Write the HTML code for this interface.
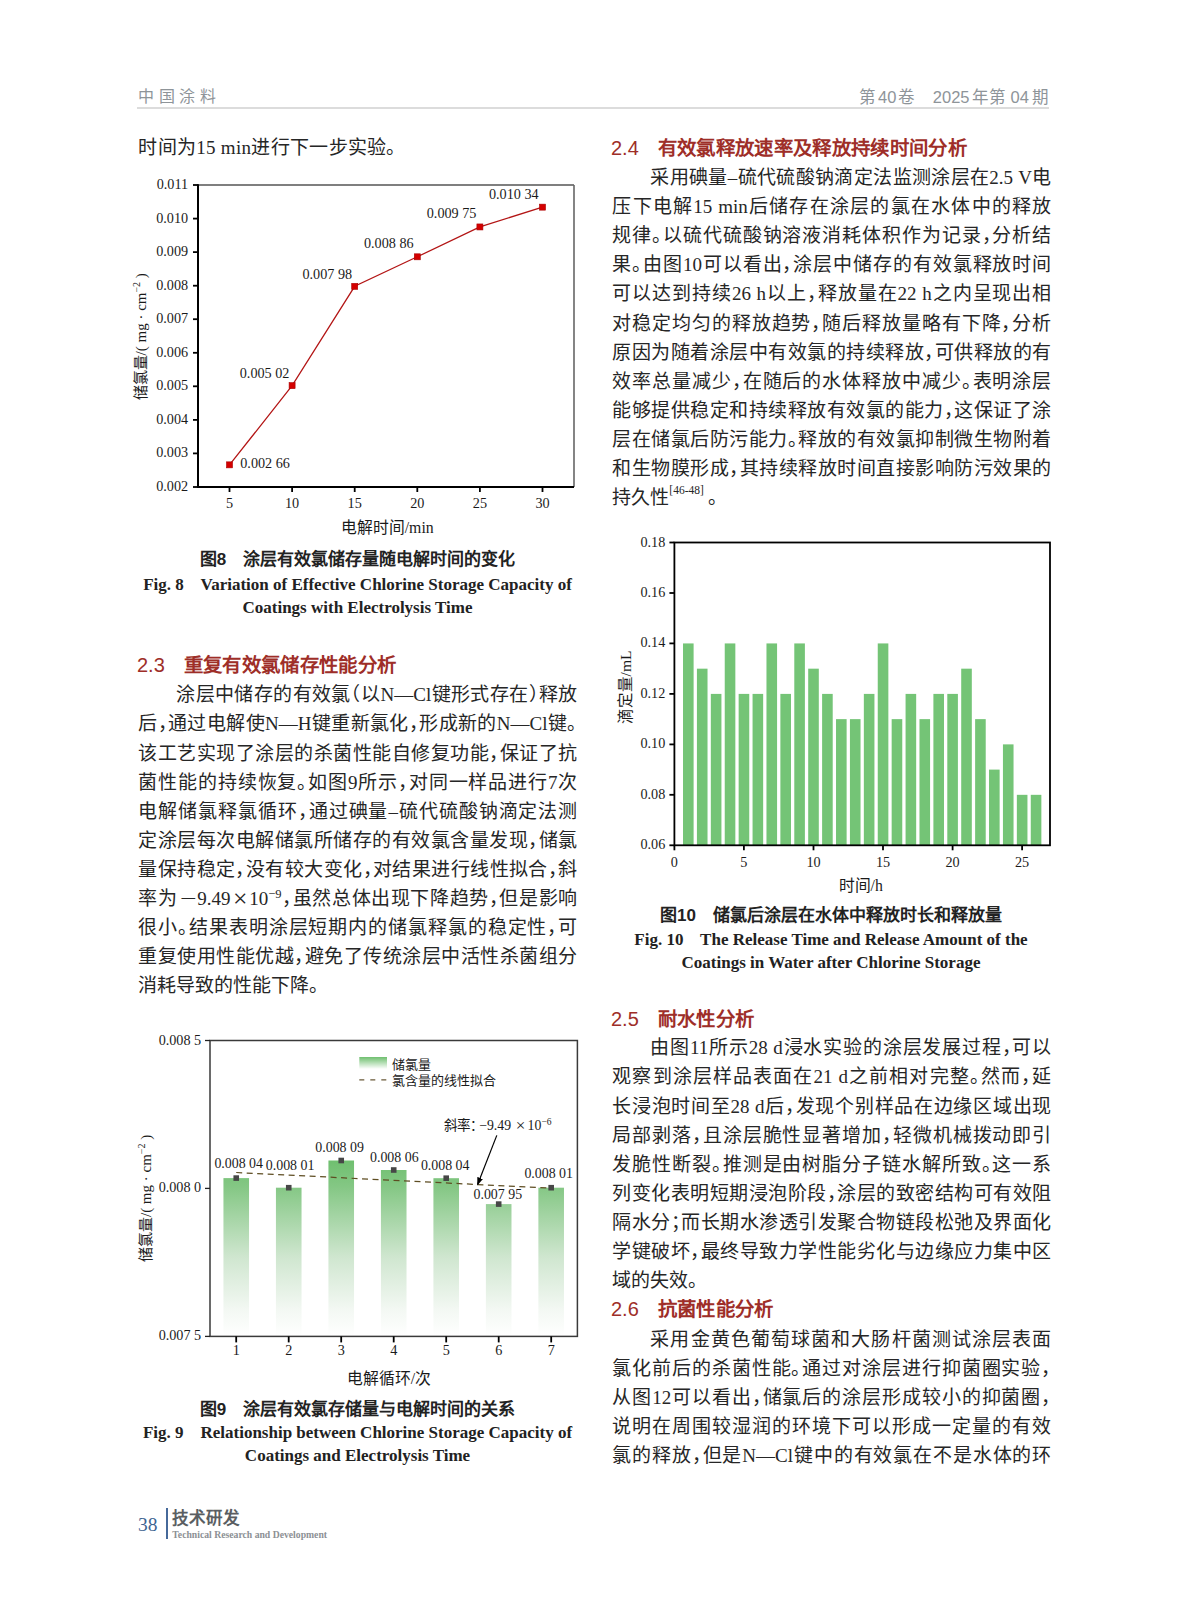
<!DOCTYPE html>
<html lang="zh-CN">
<head>
<meta charset="utf-8">
<title>中国涂料 第40卷 2025年第04期</title>
<style>
html,body{margin:0;padding:0;background:#fff}
body{width:1187px;height:1600px;position:relative;overflow:hidden;font-family:"Liberation Serif",serif;color:#262626}
.ov{position:absolute;left:0;top:0}
.ln{position:absolute;font-family:"Liberation Sans",sans-serif;width:439px;font-size:19px;line-height:29.1px;height:29.1px;white-space:nowrap;text-align:justify;text-align-last:justify;font-feature-settings:"halt"}
.s,.ln sup,.mi,.mx{font-family:"Liberation Serif",serif}
.ln.last{text-align:left;text-align-last:left}
.ln sup{font-size:12.5px;line-height:0;vertical-align:7.5px}
.mi{display:inline-block;transform:scaleX(1.55);margin:0 4px 0 5px}
.mx{display:inline-block;transform:scale(1.35);margin:0 4px}
.ln sup.ref{font-size:11.5px;vertical-align:10px;margin-right:4px}
.hd{position:absolute;width:439px;font-size:19px;line-height:29.1px;white-space:nowrap;color:#9e2e28;font-family:"Liberation Sans",sans-serif}
.hn{display:inline-block;width:46.5px;font-size:20px;margin-left:-1.3px}
.ht{font-weight:bold;font-size:19.4px;letter-spacing:0.35px}
.cc{position:absolute;width:500px;text-align:center;font-family:"Liberation Sans",sans-serif;font-weight:bold;font-size:17px;line-height:24px;color:#222;white-space:pre}
.ce{position:absolute;width:500px;text-align:center;font-family:"Liberation Serif",serif;font-weight:bold;font-size:17px;line-height:23.2px;color:#222;white-space:pre}
.g{display:inline-block;position:relative;width:1em;height:1em;vertical-align:-0.13em;color:transparent;overflow:hidden}
.g::after{content:"";position:absolute;left:.07em;right:.07em;top:.06em;bottom:.08em;background:var(--gc,rgba(20,20,20,.37))}
.gs{display:inline-block;width:1em;height:1em;color:transparent;overflow:hidden;vertical-align:-0.13em}
.gp{display:inline-block;position:relative;width:.5em;height:1em;vertical-align:-0.13em;color:transparent;overflow:hidden}
.gp::after{content:"";position:absolute;left:.1em;width:.18em;bottom:.12em;height:.18em;background:var(--gc,rgba(20,20,20,.32))}
.ln{--gc:rgba(20,20,20,.37)}
.hd{--gc:rgba(158,46,40,.55)}
.cc{--gc:rgba(34,34,34,.62)}
.hdr{--gc:rgba(142,148,153,.45)}
.ft{--gc:rgba(90,94,98,.65)}
.hdr{position:absolute;font-family:"Liberation Sans",sans-serif;color:#8e9499;font-size:16.5px;line-height:20px;white-space:pre}
.rule{position:absolute;left:137px;width:912px;top:107px;height:1.5px;background:#dcdcdc}
</style>
</head>
<body>
<div class="hdr" style="left:138px;top:86.5px;letter-spacing:4.6px;font-size:16px">中国涂料</div>
<div class="hdr" style="left:859.3px;top:86.5px">第</div><div class="hdr" style="left:878px;top:86.5px">40</div><div class="hdr" style="left:898.3px;top:86.5px">卷</div>
<div class="hdr" style="left:932.8px;top:86.5px">2025</div><div class="hdr" style="left:972.3px;top:86.5px">年</div><div class="hdr" style="left:989px;top:86.5px">第</div><div class="hdr" style="left:1010.5px;top:86.5px">04</div><div class="hdr" style="left:1032.3px;top:86.5px">期</div>
<div class="rule"></div>

<div class="ln last" style="left:138.3px;top:133.00px;letter-spacing:0.3px">时间为<span class="s">15 min</span>进行下一步实验。</div>
<div class="hd" style="left:138.3px;top:651.00px"><span class="hn">2.3</span><span class="ht">重复有效氯储存性能分析</span></div>
<div class="ln" style="left:138.3px;top:680.30px;padding-left:38px;width:401px">涂层中储存的有效氯（以<span class="s">N—Cl</span>键形式存在）释放</div>
<div class="ln" style="left:138.3px;top:709.40px">后，通过电解使<span class="s">N—H</span>键重新氯化，形成新的<span class="s">N—Cl</span>键。</div>
<div class="ln" style="left:138.3px;top:738.50px">该工艺实现了涂层的杀菌性能自修复功能，保证了抗</div>
<div class="ln" style="left:138.3px;top:767.60px">菌性能的持续恢复。如图<span class="s">9</span>所示，对同一样品进行<span class="s">7</span>次</div>
<div class="ln" style="left:138.3px;top:796.70px">电解储氯释氯循环，通过碘量<span class="s">–</span>硫代硫酸钠滴定法测</div>
<div class="ln" style="left:138.3px;top:825.80px">定涂层每次电解储氯所储存的有效氯含量发现，储氯</div>
<div class="ln" style="left:138.3px;top:854.90px">量保持稳定，没有较大变化，对结果进行线性拟合，斜</div>
<div class="ln" style="left:138.3px;top:884.00px">率为<span class="mi">−</span><span class="s">9.49</span><span class="mx">×</span><span class="s">10</span><sup>−9</sup>，虽然总体出现下降趋势，但是影响</div>
<div class="ln" style="left:138.3px;top:913.10px">很小。结果表明涂层短期内的储氯释氯的稳定性，可</div>
<div class="ln" style="left:138.3px;top:942.20px">重复使用性能优越，避免了传统涂层中活性杀菌组分</div>
<div class="ln last" style="left:138.3px;top:971.30px">消耗导致的性能下降。</div>

<div class="hd" style="left:612.3px;top:134.10px"><span class="hn">2.4</span><span class="ht">有效氯释放速率及释放持续时间分析</span></div>
<div class="ln" style="left:612.3px;top:163.00px;padding-left:38px;width:401px">采用碘量<span class="s">–</span>硫代硫酸钠滴定法监测涂层在<span class="s">2.5 V</span>电</div>
<div class="ln" style="left:612.3px;top:192.10px">压下电解<span class="s">15 min</span>后储存在涂层的氯在水体中的释放</div>
<div class="ln" style="left:612.3px;top:221.20px">规律。以硫代硫酸钠溶液消耗体积作为记录，分析结</div>
<div class="ln" style="left:612.3px;top:250.30px">果。由图<span class="s">10</span>可以看出，涂层中储存的有效氯释放时间</div>
<div class="ln" style="left:612.3px;top:279.40px">可以达到持续<span class="s">26 h</span>以上，释放量在<span class="s">22 h</span>之内呈现出相</div>
<div class="ln" style="left:612.3px;top:308.50px">对稳定均匀的释放趋势，随后释放量略有下降，分析</div>
<div class="ln" style="left:612.3px;top:337.60px">原因为随着涂层中有效氯的持续释放，可供释放的有</div>
<div class="ln" style="left:612.3px;top:366.70px">效率总量减少，在随后的水体释放中减少。表明涂层</div>
<div class="ln" style="left:612.3px;top:395.80px">能够提供稳定和持续释放有效氯的能力，这保证了涂</div>
<div class="ln" style="left:612.3px;top:424.90px">层在储氯后防污能力。释放的有效氯抑制微生物附着</div>
<div class="ln" style="left:612.3px;top:454.00px">和生物膜形成，其持续释放时间直接影响防污效果的</div>
<div class="ln last" style="left:612.3px;top:483.10px">持久性<sup class="ref">[46-48]</sup>。</div>
<div class="hd" style="left:612.3px;top:1004.70px"><span class="hn">2.5</span><span class="ht">耐水性分析</span></div>
<div class="ln" style="left:612.3px;top:1033.30px;padding-left:38px;width:401px">由图<span class="s">11</span>所示<span class="s">28 d</span>浸水实验的涂层发展过程，可以</div>
<div class="ln" style="left:612.3px;top:1062.40px">观察到涂层样品表面在<span class="s">21 d</span>之前相对完整。然而，延</div>
<div class="ln" style="left:612.3px;top:1091.50px">长浸泡时间至<span class="s">28 d</span>后，发现个别样品在边缘区域出现</div>
<div class="ln" style="left:612.3px;top:1120.60px">局部剥落，且涂层脆性显著增加，轻微机械拨动即引</div>
<div class="ln" style="left:612.3px;top:1149.70px">发脆性断裂。推测是由树脂分子链水解所致。这一系</div>
<div class="ln" style="left:612.3px;top:1178.80px">列变化表明短期浸泡阶段，涂层的致密结构可有效阻</div>
<div class="ln" style="left:612.3px;top:1207.90px">隔水分；而长期水渗透引发聚合物链段松弛及界面化</div>
<div class="ln" style="left:612.3px;top:1237.00px">学键破坏，最终导致力学性能劣化与边缘应力集中区</div>
<div class="ln last" style="left:612.3px;top:1266.10px">域的失效。</div>
<div class="hd" style="left:612.3px;top:1295.10px"><span class="hn">2.6</span><span class="ht">抗菌性能分析</span></div>
<div class="ln" style="left:612.3px;top:1324.50px;padding-left:38px;width:401px">采用金黄色葡萄球菌和大肠杆菌测试涂层表面</div>
<div class="ln" style="left:612.3px;top:1353.60px">氯化前后的杀菌性能。通过对涂层进行抑菌圈实验，</div>
<div class="ln" style="left:612.3px;top:1382.70px">从图<span class="s">12</span>可以看出，储氯后的涂层形成较小的抑菌圈，</div>
<div class="ln" style="left:612.3px;top:1411.80px">说明在周围较湿润的环境下可以形成一定量的有效</div>
<div class="ln" style="left:612.3px;top:1440.90px">氯的释放，但是<span class="s">N—Cl</span>键中的有效氯在不是水体的环</div>

<div class="cc" style="left:107.5px;top:547.6px">图8　涂层有效氯储存量随电解时间的变化</div>
<div class="ce" style="left:107.5px;top:572.7px">Fig. 8    Variation of Effective Chlorine Storage Capacity of</div>
<div class="ce" style="left:107.5px;top:595.9px">Coatings with Electrolysis Time</div>
<div class="cc" style="left:581.0px;top:903.9px">图10　储氯后涂层在水体中释放时长和释放量</div>
<div class="ce" style="left:581.0px;top:927.6px">Fig. 10    The Release Time and Release Amount of the</div>
<div class="ce" style="left:581.0px;top:950.8px">Coatings in Water after Chlorine Storage</div>
<div class="cc" style="left:107.5px;top:1397.9px">图9　涂层有效氯存储量与电解时间的关系</div>
<div class="ce" style="left:107.5px;top:1420.8px">Fig. 9    Relationship between Chlorine Storage Capacity of</div>
<div class="ce" style="left:107.5px;top:1444.0px">Coatings and Electrolysis Time</div>

<svg class="ov" width="1187" height="1600" viewBox="0 0 1187 1600" font-family="Liberation Serif, serif" fill="#1a1a1a"><defs><linearGradient id="g9" gradientUnits="userSpaceOnUse" x1="0" y1="1160" x2="0" y2="1336"><stop offset="0" stop-color="#6fbf6f"/><stop offset="0.15" stop-color="#84c784"/><stop offset="0.55" stop-color="#cfe6cf"/><stop offset="0.85" stop-color="#f3f8f3"/><stop offset="1" stop-color="#ffffff"/></linearGradient><linearGradient id="g9l" x1="0" y1="0" x2="0" y2="1"><stop offset="0" stop-color="#6fbf6f"/><stop offset="1" stop-color="#ffffff"/></linearGradient><marker id="ah" markerWidth="8" markerHeight="8" refX="7" refY="4" orient="auto" markerUnits="userSpaceOnUse"><path d="M0,1 L8,4 L0,7 Z" fill="#000"/></marker></defs>
<line x1="198.0" y1="185.0" x2="574.0" y2="185.0" stroke="#555" stroke-width="1.6" />
<line x1="574.0" y1="185.0" x2="574.0" y2="487.0" stroke="#666" stroke-width="1.6" />
<line x1="198.0" y1="184.2" x2="198.0" y2="488.0" stroke="#000" stroke-width="2" />
<line x1="197.0" y1="487.0" x2="574.0" y2="487.0" stroke="#000" stroke-width="2" />
<line x1="193.0" y1="487.0" x2="198.0" y2="487.0" stroke="#000" stroke-width="1.8" />
<text x="188.1" y="491.0" font-size="14.2" text-anchor="end" >0.002</text>
<line x1="193.0" y1="453.4" x2="198.0" y2="453.4" stroke="#000" stroke-width="1.8" />
<text x="188.1" y="457.4" font-size="14.2" text-anchor="end" >0.003</text>
<line x1="193.0" y1="419.9" x2="198.0" y2="419.9" stroke="#000" stroke-width="1.8" />
<text x="188.1" y="423.9" font-size="14.2" text-anchor="end" >0.004</text>
<line x1="193.0" y1="386.3" x2="198.0" y2="386.3" stroke="#000" stroke-width="1.8" />
<text x="188.1" y="390.3" font-size="14.2" text-anchor="end" >0.005</text>
<line x1="193.0" y1="352.8" x2="198.0" y2="352.8" stroke="#000" stroke-width="1.8" />
<text x="188.1" y="356.8" font-size="14.2" text-anchor="end" >0.006</text>
<line x1="193.0" y1="319.2" x2="198.0" y2="319.2" stroke="#000" stroke-width="1.8" />
<text x="188.1" y="323.2" font-size="14.2" text-anchor="end" >0.007</text>
<line x1="193.0" y1="285.7" x2="198.0" y2="285.7" stroke="#000" stroke-width="1.8" />
<text x="188.1" y="289.7" font-size="14.2" text-anchor="end" >0.008</text>
<line x1="193.0" y1="252.1" x2="198.0" y2="252.1" stroke="#000" stroke-width="1.8" />
<text x="188.1" y="256.1" font-size="14.2" text-anchor="end" >0.009</text>
<line x1="193.0" y1="218.6" x2="198.0" y2="218.6" stroke="#000" stroke-width="1.8" />
<text x="188.1" y="222.6" font-size="14.2" text-anchor="end" >0.010</text>
<line x1="193.0" y1="185.0" x2="198.0" y2="185.0" stroke="#000" stroke-width="1.8" />
<text x="188.1" y="189.0" font-size="14.2" text-anchor="end" >0.011</text>
<line x1="229.5" y1="487.0" x2="229.5" y2="492.0" stroke="#000" stroke-width="1.8" />
<text x="229.5" y="507.6" font-size="14.2" text-anchor="middle" >5</text>
<line x1="292.1" y1="487.0" x2="292.1" y2="492.0" stroke="#000" stroke-width="1.8" />
<text x="292.1" y="507.6" font-size="14.2" text-anchor="middle" >10</text>
<line x1="354.7" y1="487.0" x2="354.7" y2="492.0" stroke="#000" stroke-width="1.8" />
<text x="354.7" y="507.6" font-size="14.2" text-anchor="middle" >15</text>
<line x1="417.3" y1="487.0" x2="417.3" y2="492.0" stroke="#000" stroke-width="1.8" />
<text x="417.3" y="507.6" font-size="14.2" text-anchor="middle" >20</text>
<line x1="479.9" y1="487.0" x2="479.9" y2="492.0" stroke="#000" stroke-width="1.8" />
<text x="479.9" y="507.6" font-size="14.2" text-anchor="middle" >25</text>
<line x1="542.5" y1="487.0" x2="542.5" y2="492.0" stroke="#000" stroke-width="1.8" />
<text x="542.5" y="507.6" font-size="14.2" text-anchor="middle" >30</text>
<polyline fill="none" stroke="#b31515" stroke-width="1.25" points="229.5,464.9 292.1,385.7 354.7,286.3 417.3,256.8 479.9,226.9 542.5,207.1"/>
<rect x="226.50" y="461.85" width="6.00" height="6.00" fill="#d40000" stroke="#a00" stroke-width="0.6"/>
<rect x="289.10" y="382.66" width="6.00" height="6.00" fill="#d40000" stroke="#a00" stroke-width="0.6"/>
<rect x="351.70" y="283.34" width="6.00" height="6.00" fill="#d40000" stroke="#a00" stroke-width="0.6"/>
<rect x="414.30" y="253.81" width="6.00" height="6.00" fill="#d40000" stroke="#a00" stroke-width="0.6"/>
<rect x="476.90" y="223.94" width="6.00" height="6.00" fill="#d40000" stroke="#a00" stroke-width="0.6"/>
<rect x="539.50" y="204.15" width="6.00" height="6.00" fill="#d40000" stroke="#a00" stroke-width="0.6"/>
<text x="265.1" y="468.0" font-size="14.2" text-anchor="middle" >0.002 66</text>
<text x="264.6" y="378.2" font-size="14.2" text-anchor="middle" >0.005 02</text>
<text x="327.3" y="279.2" font-size="14.2" text-anchor="middle" >0.007 98</text>
<text x="388.8" y="247.6" font-size="14.2" text-anchor="middle" >0.008 86</text>
<text x="451.6" y="217.7" font-size="14.2" text-anchor="middle" >0.009 75</text>
<text x="513.8" y="199.3" font-size="14.2" text-anchor="middle" >0.010 34</text>
<text x="0.0" y="0.0" font-size="15" text-anchor="middle" transform="translate(146,336.8) rotate(-90)"><tspan font-family="Liberation Sans, sans-serif">储氯量</tspan>/( mg · cm<tspan dy="-6" font-size="10">−2</tspan><tspan dy="6"> )</tspan></text>
<text x="387.2" y="532.5" font-size="15.8" text-anchor="middle" ><tspan font-family="Liberation Sans, sans-serif">电解时间</tspan>/min</text>
<rect x="683.01" y="643.43" width="10.60" height="201.87" fill="#74c476" />
<rect x="696.92" y="668.67" width="10.60" height="176.63" fill="#74c476" />
<rect x="710.83" y="693.90" width="10.60" height="151.40" fill="#74c476" />
<rect x="724.74" y="643.43" width="10.60" height="201.87" fill="#74c476" />
<rect x="738.65" y="693.90" width="10.60" height="151.40" fill="#74c476" />
<rect x="752.56" y="693.90" width="10.60" height="151.40" fill="#74c476" />
<rect x="766.47" y="643.43" width="10.60" height="201.87" fill="#74c476" />
<rect x="780.38" y="693.90" width="10.60" height="151.40" fill="#74c476" />
<rect x="794.29" y="643.43" width="10.60" height="201.87" fill="#74c476" />
<rect x="808.20" y="668.67" width="10.60" height="176.63" fill="#74c476" />
<rect x="822.11" y="693.90" width="10.60" height="151.40" fill="#74c476" />
<rect x="836.02" y="719.13" width="10.60" height="126.17" fill="#74c476" />
<rect x="849.93" y="719.13" width="10.60" height="126.17" fill="#74c476" />
<rect x="863.84" y="693.90" width="10.60" height="151.40" fill="#74c476" />
<rect x="877.75" y="643.43" width="10.60" height="201.87" fill="#74c476" />
<rect x="891.66" y="719.13" width="10.60" height="126.17" fill="#74c476" />
<rect x="905.57" y="693.90" width="10.60" height="151.40" fill="#74c476" />
<rect x="919.48" y="719.13" width="10.60" height="126.17" fill="#74c476" />
<rect x="933.39" y="693.90" width="10.60" height="151.40" fill="#74c476" />
<rect x="947.30" y="693.90" width="10.60" height="151.40" fill="#74c476" />
<rect x="961.21" y="668.67" width="10.60" height="176.63" fill="#74c476" />
<rect x="975.12" y="719.13" width="10.60" height="126.17" fill="#74c476" />
<rect x="989.03" y="769.60" width="10.60" height="75.70" fill="#74c476" />
<rect x="1002.94" y="744.37" width="10.60" height="100.93" fill="#74c476" />
<rect x="1016.85" y="794.83" width="10.60" height="50.47" fill="#74c476" />
<rect x="1030.76" y="794.83" width="10.60" height="50.47" fill="#74c476" />
<rect x="674.4" y="542.5" width="375.6" height="302.8" fill="none" stroke="#000" stroke-width="1.8"/>
<line x1="669.4" y1="845.3" x2="674.4" y2="845.3" stroke="#000" stroke-width="1.8" />
<text x="665.3" y="849.3" font-size="14.2" text-anchor="end" >0.06</text>
<line x1="669.4" y1="794.8" x2="674.4" y2="794.8" stroke="#000" stroke-width="1.8" />
<text x="665.3" y="798.8" font-size="14.2" text-anchor="end" >0.08</text>
<line x1="669.4" y1="744.4" x2="674.4" y2="744.4" stroke="#000" stroke-width="1.8" />
<text x="665.3" y="748.4" font-size="14.2" text-anchor="end" >0.10</text>
<line x1="669.4" y1="693.9" x2="674.4" y2="693.9" stroke="#000" stroke-width="1.8" />
<text x="665.3" y="697.9" font-size="14.2" text-anchor="end" >0.12</text>
<line x1="669.4" y1="643.4" x2="674.4" y2="643.4" stroke="#000" stroke-width="1.8" />
<text x="665.3" y="647.4" font-size="14.2" text-anchor="end" >0.14</text>
<line x1="669.4" y1="593.0" x2="674.4" y2="593.0" stroke="#000" stroke-width="1.8" />
<text x="665.3" y="597.0" font-size="14.2" text-anchor="end" >0.16</text>
<line x1="669.4" y1="542.5" x2="674.4" y2="542.5" stroke="#000" stroke-width="1.8" />
<text x="665.3" y="546.5" font-size="14.2" text-anchor="end" >0.18</text>
<line x1="674.4" y1="845.3" x2="674.4" y2="850.3" stroke="#000" stroke-width="1.8" />
<text x="674.4" y="866.7" font-size="14.2" text-anchor="middle" >0</text>
<line x1="743.9" y1="845.3" x2="743.9" y2="850.3" stroke="#000" stroke-width="1.8" />
<text x="743.9" y="866.7" font-size="14.2" text-anchor="middle" >5</text>
<line x1="813.5" y1="845.3" x2="813.5" y2="850.3" stroke="#000" stroke-width="1.8" />
<text x="813.5" y="866.7" font-size="14.2" text-anchor="middle" >10</text>
<line x1="883.0" y1="845.3" x2="883.0" y2="850.3" stroke="#000" stroke-width="1.8" />
<text x="883.0" y="866.7" font-size="14.2" text-anchor="middle" >15</text>
<line x1="952.6" y1="845.3" x2="952.6" y2="850.3" stroke="#000" stroke-width="1.8" />
<text x="952.6" y="866.7" font-size="14.2" text-anchor="middle" >20</text>
<line x1="1022.1" y1="845.3" x2="1022.1" y2="850.3" stroke="#000" stroke-width="1.8" />
<text x="1022.1" y="866.7" font-size="14.2" text-anchor="middle" >25</text>
<text x="0.0" y="0.0" font-size="15.5" text-anchor="middle" transform="translate(631,687.5) rotate(-90)"><tspan font-family="Liberation Sans, sans-serif">滴定量</tspan>/mL</text>
<text x="860.7" y="890.5" font-size="15.8" text-anchor="middle" ><tspan font-family="Liberation Sans, sans-serif">时间</tspan>/h</text>
<rect x="223.44" y="1178.10" width="25.60" height="158.30" fill="url(#g9)" />
<rect x="275.94" y="1187.70" width="25.60" height="148.70" fill="url(#g9)" />
<rect x="328.43" y="1160.50" width="25.60" height="175.90" fill="url(#g9)" />
<rect x="380.92" y="1170.00" width="25.60" height="166.40" fill="url(#g9)" />
<rect x="433.41" y="1178.20" width="25.60" height="158.20" fill="url(#g9)" />
<rect x="485.89" y="1204.10" width="25.60" height="132.30" fill="url(#g9)" />
<rect x="538.38" y="1187.70" width="25.60" height="148.70" fill="url(#g9)" />
<line x1="236.2" y1="1172.5" x2="551.2" y2="1188.2" stroke="#5e4d22" stroke-width="1.25" stroke-dasharray="6,4.5"/>
<rect x="233.44" y="1175.30" width="5.60" height="5.60" fill="#474747" />
<rect x="285.94" y="1184.90" width="5.60" height="5.60" fill="#474747" />
<rect x="338.43" y="1157.70" width="5.60" height="5.60" fill="#474747" />
<rect x="390.92" y="1167.20" width="5.60" height="5.60" fill="#474747" />
<rect x="443.41" y="1175.40" width="5.60" height="5.60" fill="#474747" />
<rect x="495.89" y="1201.30" width="5.60" height="5.60" fill="#474747" />
<rect x="548.38" y="1184.90" width="5.60" height="5.60" fill="#474747" />
<rect x="210.0" y="1040.5" width="367.4" height="295.9" fill="none" stroke="#3a3a3a" stroke-width="1.5"/>
<line x1="205.0" y1="1040.5" x2="210.0" y2="1040.5" stroke="#222" stroke-width="1.3" />
<text x="201.2" y="1044.5" font-size="14.2" text-anchor="end" >0.008 5</text>
<line x1="205.0" y1="1188.4" x2="210.0" y2="1188.4" stroke="#222" stroke-width="1.3" />
<text x="201.2" y="1192.4" font-size="14.2" text-anchor="end" >0.008 0</text>
<line x1="205.0" y1="1336.4" x2="210.0" y2="1336.4" stroke="#222" stroke-width="1.3" />
<text x="201.2" y="1340.4" font-size="14.2" text-anchor="end" >0.007 5</text>
<line x1="236.2" y1="1336.4" x2="236.2" y2="1342.4" stroke="#000" stroke-width="1.8" />
<text x="236.2" y="1355.3" font-size="14.2" text-anchor="middle" >1</text>
<line x1="288.7" y1="1336.4" x2="288.7" y2="1342.4" stroke="#000" stroke-width="1.8" />
<text x="288.7" y="1355.3" font-size="14.2" text-anchor="middle" >2</text>
<line x1="341.2" y1="1336.4" x2="341.2" y2="1342.4" stroke="#000" stroke-width="1.8" />
<text x="341.2" y="1355.3" font-size="14.2" text-anchor="middle" >3</text>
<line x1="393.7" y1="1336.4" x2="393.7" y2="1342.4" stroke="#000" stroke-width="1.8" />
<text x="393.7" y="1355.3" font-size="14.2" text-anchor="middle" >4</text>
<line x1="446.2" y1="1336.4" x2="446.2" y2="1342.4" stroke="#000" stroke-width="1.8" />
<text x="446.2" y="1355.3" font-size="14.2" text-anchor="middle" >5</text>
<line x1="498.7" y1="1336.4" x2="498.7" y2="1342.4" stroke="#000" stroke-width="1.8" />
<text x="498.7" y="1355.3" font-size="14.2" text-anchor="middle" >6</text>
<line x1="551.2" y1="1336.4" x2="551.2" y2="1342.4" stroke="#000" stroke-width="1.8" />
<text x="551.2" y="1355.3" font-size="14.2" text-anchor="middle" >7</text>
<text x="238.7" y="1168.2" font-size="13.9" text-anchor="middle" >0.008 04</text>
<text x="290.1" y="1169.8" font-size="13.9" text-anchor="middle" >0.008 01</text>
<text x="339.6" y="1152.4" font-size="13.9" text-anchor="middle" >0.008 09</text>
<text x="394.3" y="1161.5" font-size="13.9" text-anchor="middle" >0.008 06</text>
<text x="445.2" y="1170.0" font-size="13.9" text-anchor="middle" >0.008 04</text>
<text x="497.8" y="1198.7" font-size="13.9" text-anchor="middle" >0.007 95</text>
<text x="548.7" y="1178.1" font-size="13.9" text-anchor="middle" >0.008 01</text>
<rect x="359.30" y="1057.00" width="27.70" height="12.00" fill="url(#g9l)" />
<text x="391.7" y="1069.3" font-size="13" text-anchor="start" ><tspan font-family="Liberation Sans, sans-serif">储氯量</tspan></text>
<line x1="359.3" y1="1079.8" x2="387.0" y2="1079.8" stroke="#6a5a38" stroke-width="1.3" stroke-dasharray="5,6"/>
<text x="391.7" y="1085.0" font-size="13" text-anchor="start" ><tspan font-family="Liberation Sans, sans-serif">氯含量的线性拟合</tspan></text>
<text x="443.6" y="1130.3" font-size="13.5" text-anchor="start" ><tspan font-family="Liberation Sans, sans-serif">斜率：</tspan></text>
<text x="479.2" y="1130.3" font-size="13.8" text-anchor="start" >−9.49</text>
<text x="520.5" y="1130.6" font-size="17" text-anchor="middle" >×</text>
<text x="527.6" y="1130.3" font-size="13.8" text-anchor="start" >10<tspan dy="-5.5" font-size="9.5">−6</tspan></text>
<line x1="496.8" y1="1135.4" x2="477.6" y2="1184.5" stroke="#000" stroke-width="1.2" marker-end="url(#ah)"/>
<text x="0.0" y="0.0" font-size="15" text-anchor="middle" transform="translate(150.5,1198.4) rotate(-90)"><tspan font-family="Liberation Sans, sans-serif">储氯量</tspan>/( mg · cm<tspan dy="-6" font-size="10">−2</tspan><tspan dy="6"> )</tspan></text>
<text x="389.0" y="1383.7" font-size="15.8" text-anchor="middle" ><tspan font-family="Liberation Sans, sans-serif">电解循环</tspan>/<tspan font-family="Liberation Sans, sans-serif">次</tspan></text></svg>

<div style="position:absolute;left:138px;top:1513.5px;font-family:'Liberation Serif',serif;font-size:19.5px;line-height:22px;color:#3d6491">38</div>
<div style="position:absolute;left:166.3px;top:1508px;width:2px;height:31px;background:#46699a"></div>
<div class="ft" style="position:absolute;left:172px;top:1508px;font-family:'Liberation Sans',sans-serif;font-weight:bold;font-size:16.5px;line-height:20px;color:#5a5e62">技术研发</div>
<div style="position:absolute;left:172.3px;top:1529px;font-family:'Liberation Serif',serif;font-weight:bold;font-size:9.7px;line-height:11px;color:#8c9094">Technical Research and Development</div>
<script>
(function(){
  try{
    var d=document.createElement('span');
    d.style.cssText='position:absolute;left:0;top:0;font:100px "Liberation Sans",sans-serif;white-space:nowrap;visibility:hidden';
    d.textContent='中国涂料';
    document.body.appendChild(d);
    var w=d.getBoundingClientRect().width; d.parentNode.removeChild(d);
    if(Math.abs(w-400)<10) return;
  }catch(e){return;}
  document.documentElement.className+=' nocjk';
  var re=/[　-〿一-鿿＀-￯]/, rp=/[　-〿＀-￯]/;
  var tw=document.createTreeWalker(document.body,NodeFilter.SHOW_TEXT,null,false), nodes=[];
  while(tw.nextNode()){var n=tw.currentNode; if(re.test(n.nodeValue) && !n.parentNode.closest('svg')) nodes.push(n);}
  nodes.forEach(function(n){
    var f=document.createDocumentFragment(), t=n.nodeValue, buf='';
    for(var i=0;i<t.length;i++){var ch=t.charAt(i);
      if(re.test(ch)){ if(buf){f.appendChild(document.createTextNode(buf));buf='';}
        var sp=document.createElement('span'); sp.className=(ch=='　')?'gs':(rp.test(ch)?'gp':'g'); sp.textContent=ch; f.appendChild(sp);}
      else buf+=ch;}
    if(buf) f.appendChild(document.createTextNode(buf));
    n.parentNode.replaceChild(f,n);
  });
})();
</script>
</body>
</html>
